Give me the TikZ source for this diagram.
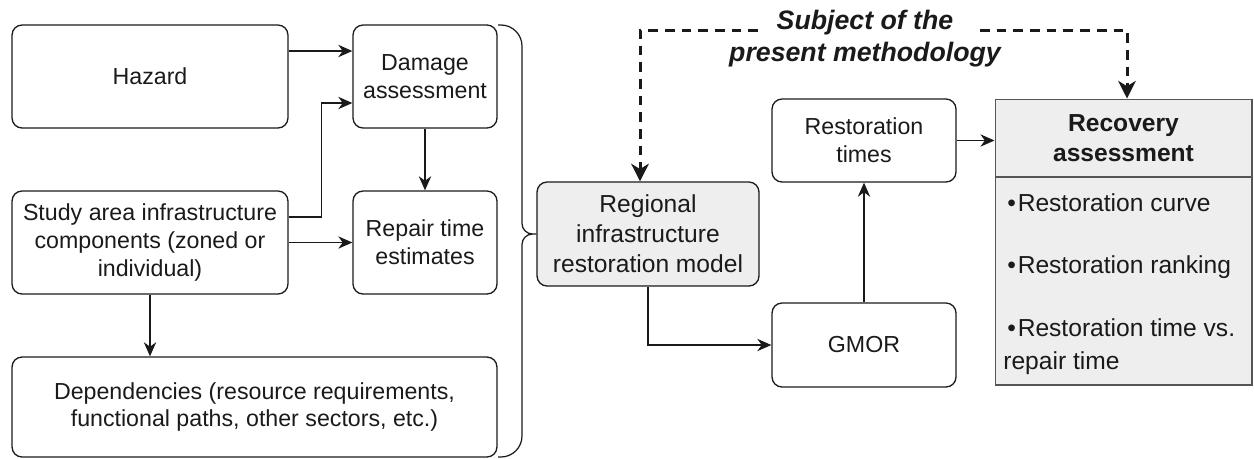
\documentclass[tikz,border=0pt]{standalone}
\usepackage{fontspec}
\setmainfont{Liberation Sans}
\usepackage{xcolor}
\usetikzlibrary{arrows.meta,positioning}
\definecolor{boxgray}{HTML}{EEEEEE}
\definecolor{edgegray}{HTML}{555555}
\definecolor{inkdark}{HTML}{1A1A1A}
\newcommand{\itembullet}{\hspace*{2.3pt}•\kern1pt}

\begin{document}
\begin{tikzpicture}[x=0.02cm,y=-0.02cm,
   every node/.style={text=inkdark},
   box/.style={draw=inkdark,rounded corners=0.2cm,line width=0.75pt,align=center,
      inner sep=2pt,font=\fontsize{13.2}{15.9}\selectfont},
   graybox/.style={box,fill=boxgray,font=\fontsize{14}{17}\selectfont},
   arr/.style={draw=inkdark,line width=0.8pt,-{Stealth[length=8pt,width=7pt,inset=2.5pt]}},
   dasharr/.style={draw=inkdark,line width=1.7pt,dash pattern=on 5.5pt off 4pt,
      -{Stealth[length=10pt,width=10pt,inset=3pt]}},
   bracket/.style={draw=inkdark,line width=0.7pt},
   subjlabel/.style={align=center,font=\fontsize{15.2}{18.2}\selectfont\bfseries\itshape}]
\useasboundingbox (0,0) rectangle (1254,458);

% inputs
\node[box,minimum width=5.52cm,minimum height=2.06cm] (hazard) at (150,76.5) {Hazard};
\node[box,minimum width=2.88cm,minimum height=2.06cm] (damage) at (425,76.5) {Damage\\assessment};
\node[box,minimum width=5.52cm,minimum height=2.06cm] (study) at (150,242.5)
   {Study area infrastructure\\components (zoned or\\individual)};
\node[box,minimum width=2.88cm,minimum height=2.06cm] (repair) at (425,242.5) {Repair time\\estimates};
\node[box,minimum width=9.7cm,minimum height=2cm] (deps) at (254.5,407)
   {Dependencies (resource requirements,\\functional paths, other sectors, etc.)};

\draw[arr] ([yshift=0.51cm]hazard.east) -- ([yshift=0.51cm]damage.west);
\draw[arr] ([yshift=0.51cm]study.east) -- ++(33,0) |- ([yshift=-0.53cm]damage.west);
\draw[arr] (study.east) -- (repair.west);
\draw[arr] (damage.south) -- (repair.north);
\draw[arr] (study.south) -- (study.south |- deps.north);

% model and outputs
\node[graybox,minimum width=4.44cm,minimum height=2.08cm] (regional) at (648,234)
   {Regional\\infrastructure\\restoration model};
\node[box,minimum width=3.68cm,minimum height=1.66cm] (restimes) at (864,140.5) {Restoration\\times};
\node[box,minimum width=3.68cm,minimum height=1.68cm] (gmor) at (864,345) {GMOR};
\node[draw=edgegray,fill=boxgray,line width=0.6pt,minimum width=5.14cm,minimum height=5.72cm]
   (recov) at (1123.5,242) {};
\node[align=center,font=\fontsize{14}{17}\selectfont\bfseries] (recovhead) at (1123.5,138)
   {Recovery\\assessment};
\draw[edgegray,line width=0.6pt] (recov.west |- 0,177) -- (recov.east |- 0,177);
\node[anchor=north west,align=left,inner sep=0pt,font=\fontsize{14}{18.8}\selectfont] (items)
   at (1003,193) {\itembullet Restoration curve\\[16.9pt]\itembullet Restoration ranking\\[16.9pt]%
   \itembullet Restoration time vs.\\repair time};

% brace
\draw[bracket,rounded corners=12] (498,25) -| (522,120) [rounded corners=6] |- (regional.west)
   (regional.west) -| (522,350) [rounded corners=12] |- (498,457);

\draw[arr] (regional.south) |- (gmor.west);
\draw[arr] (gmor.north) -- (restimes.south);
\draw[arr] (restimes.east) -- (recov.west |- restimes.east);

% subject of the methodology
\node[subjlabel] (subj) at (865,39) {Subject of the\\present methodology};
\coordinate (dl) at (758,30);
\coordinate (dr) at (980,30);
\draw[dasharr] (dl) -| ([xshift=-0.16cm]regional.north);
\draw[dasharr] (dr) -| ([xshift=0.07cm]recov.north);
\end{tikzpicture}
\end{document}
